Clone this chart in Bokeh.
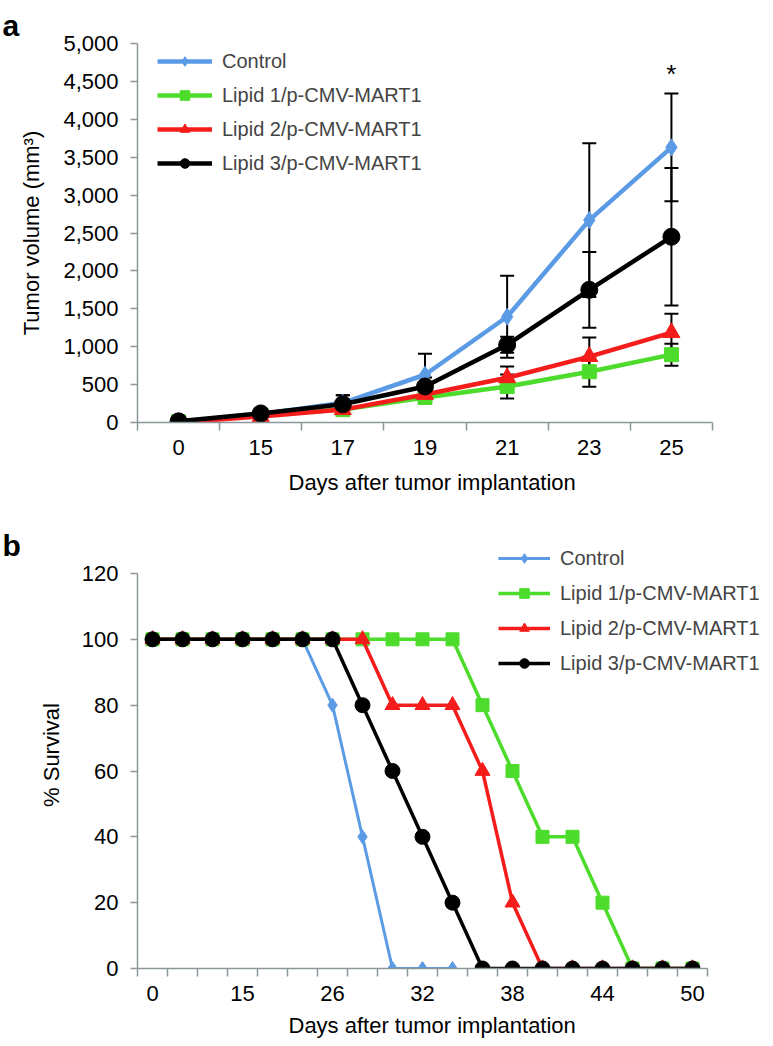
import numpy as np
from bokeh.plotting import figure
from bokeh.models import (Range1d, FixedTicker, NumeralTickFormatter, Legend, LegendItem,
                          Whisker, TeeHead, ColumnDataSource, Label, Title)
from bokeh.layouts import column
from bokeh.embed import file_html
from bokeh.resources import INLINE

FONT = "Liberation Sans"
AXIS_GREY = "#8c979c"

# ---------------- data: panel a ----------------
days_a = [0, 15, 17, 19, 21, 23, 25]
control_a = [10, 110, 260, 630, 1395, 2670, 3630]
lipid1_a = [10, 100, 170, 330, 475, 670, 895]
lipid2_a = [0, 80, 170, 370, 590, 870, 1185]
lipid3_a = [15, 120, 240, 475, 1025, 1750, 2450]
control_a_err = [5, 20, 100, 276, 540, 1013, 710]
lipid1_a_err = [5, 20, 60, 60, 158, 197, 145]
lipid2_a_err = [5, 20, 60, 80, 150, 250, 250]
lipid3_a_err = [5, 30, 120, 120, 105, 500, 908]
yticks_a = [0, 500, 1000, 1500, 2000, 2500, 3000, 3500, 4000, 4500, 5000]

# ---------------- data: panel b ----------------
days_b = [0, 5, 10, 15, 19, 22, 26, 28, 30, 32, 34, 36, 38, 40, 42, 44, 46, 48, 50]
control_b = [100, 100, 100, 100, 100, 100, 80, 40, 0, 0, 0,
             None, None, None, None, None, None, None, None]
lipid1_b = [100, 100, 100, 100, 100, 100, 100, 100, 100, 100, 100,
            80, 60, 40, 40, 20, 0, 0, 0]
lipid2_b = [100, 100, 100, 100, 100, 100, 100, 100, 80, 80, 80,
            60, 20, 0, 0, 0, 0, 0, 0]
lipid3_b = [100, 100, 100, 100, 100, 100, 100, 80, 60, 40, 20,
            0, 0, 0, 0, 0, 0, 0, 0]
yticks_b = [0, 20, 40, 60, 80, 100, 120]

names = ["Control", "Lipid 1/p-CMV-MART1", "Lipid 2/p-CMV-MART1", "Lipid 3/p-CMV-MART1"]
colors = ["#5b9be6", "#4ddc2c", "#f51c1c", "#000000"]
markers = ["diamond", "square", "triangle", "circle"]
x_title = "Days after tumor implantation"

FRAME_W = 628  # common frame width of both panels (frames are aligned by the column)


def f(v):
    return np.array([np.nan if x is None else x for x in v], dtype=float)


def style_axes(p, fs_tick="22px", fs_title="22px"):
    p.xgrid.visible = False
    p.ygrid.visible = False
    p.outline_line_color = None
    p.background_fill_color = "white"
    p.border_fill_color = "white"
    for ax in (p.xaxis[0], p.yaxis[0]):
        ax.axis_line_color = AXIS_GREY
        ax.axis_line_width = 1.5
        ax.major_tick_line_color = AXIS_GREY
        ax.major_tick_line_width = 1.5
        ax.minor_tick_line_color = AXIS_GREY
        ax.minor_tick_line_width = 1.5
        ax.major_label_text_font = FONT
        ax.major_label_text_font_size = fs_tick
        ax.major_label_text_color = "black"
        ax.axis_label_text_font = FONT
        ax.axis_label_text_font_size = fs_title
        ax.axis_label_text_font_style = "normal"
        ax.axis_label_text_color = "black"


def x_axis_title(p, standoff):
    # x-axis title centred under the drawn axis (the frame is wider than the axis)
    p.add_layout(Title(text=x_title, align="left", offset=151, standoff=standoff,
                       text_font=FONT, text_font_size="22px", text_font_style="normal",
                       text_color="black"), "below")


# ================= panel a =================
n_a = len(days_a)
xa = np.arange(n_a) + 0.5
pa = figure(width=773, height=505, x_range=Range1d(0, n_a * FRAME_W / 575),
            y_range=Range1d(0, 5000),
            output_backend="svg", toolbar_location=None,
            min_border_left=137, min_border_right=8, min_border_top=43, min_border_bottom=82)
style_axes(pa)
pa.add_layout(Title(text="a", align="left", offset=-135, standoff=4, text_font=FONT,
                    text_font_size="30px", text_font_style="bold", text_color="black"), "above")
pa.xaxis.bounds = (0, n_a)
pa.xaxis.ticker = FixedTicker(ticks=list(xa), minor_ticks=list(range(n_a + 1)))
pa.xaxis.major_label_overrides = {float(x): str(d) for x, d in zip(xa, days_a)}
pa.xaxis.major_tick_line_color = None
pa.xaxis.major_tick_out = 8
pa.xaxis.major_tick_in = 0
pa.xaxis.minor_tick_out = 8
pa.xaxis.minor_tick_in = 0
pa.xaxis.major_label_standoff = 9
x_axis_title(pa, 21)
pa.yaxis.ticker = FixedTicker(ticks=yticks_a, minor_ticks=[])
pa.yaxis.formatter = NumeralTickFormatter(format="0,0")
pa.yaxis.major_tick_out = 7
pa.yaxis.major_tick_in = 0
pa.yaxis.major_label_standoff = 12
pa.yaxis.axis_label = "Tumor volume (mm³)"
pa.yaxis.axis_label_standoff = 16

series_a = [control_a, lipid1_a, lipid2_a, lipid3_a]
errs_a = [control_a_err, lipid1_a_err, lipid2_a_err, lipid3_a_err]
msize_a = [17, 14, 17, 17]
items_a = []
for name, col, mk, vals, ms in zip(names, colors, markers, series_a, msize_a):
    src = ColumnDataSource(dict(x=xa, y=np.array(vals, float)))
    lr = pa.line("x", "y", source=src, line_color=col, line_width=4.5)
    sr = pa.scatter("x", "y", source=src, marker=mk, size=ms, fill_color=col, line_color=col)
    items_a.append(LegendItem(label=name, renderers=[lr, sr]))
for vals, err in zip(series_a, errs_a):
    v = np.array(vals, float)
    e = np.array(err, float)
    esrc = ColumnDataSource(dict(x=xa, lo=v - e, hi=v + e))
    w = Whisker(source=esrc, base="x", lower="lo", upper="hi", line_color="black", line_width=2,
                upper_head=TeeHead(size=14, line_color="black", line_width=2),
                lower_head=TeeHead(size=14, line_color="black", line_width=2))
    pa.add_layout(w)

leg_a = Legend(items=items_a, location=(20, 247), orientation="vertical",
               glyph_width=55, glyph_height=24, label_height=24, spacing=10,
               padding=0, margin=0, label_standoff=10,
               label_text_font=FONT, label_text_font_size="20px",
               border_line_color=None, background_fill_alpha=0)
pa.add_layout(leg_a)

pa.add_layout(Label(x=xa[-1], y=4600, text="*", text_font=FONT, text_font_size="26px",
                    text_align="center", text_baseline="middle", text_color="black"))

# ================= panel b =================
n_b = len(days_b)
xb = np.arange(n_b) + 0.5
label_idx = list(range(0, n_b, 3))
# frame is a little larger than the axes so the legend (which sits above 120) is not clipped
pb = figure(width=773, height=540, x_range=Range1d(0, n_b * FRAME_W / 570),
            y_range=Range1d(0, 120 * 427 / 395),
            output_backend="svg", toolbar_location=None,
            min_border_left=137, min_border_right=8, min_border_top=36, min_border_bottom=77)
style_axes(pb)
pb.add_layout(Title(text="b", align="left", offset=-135, standoff=-40, text_font=FONT,
                    text_font_size="30px", text_font_style="bold", text_color="black"), "above")
pb.xaxis.bounds = (0, n_b)
pb.yaxis.bounds = (0, 120)
pb.xaxis.ticker = FixedTicker(ticks=[float(xb[i]) for i in label_idx],
                              minor_ticks=list(range(n_b + 1)))
pb.xaxis.major_label_overrides = {float(xb[i]): str(days_b[i]) for i in label_idx}
pb.xaxis.major_tick_line_color = None
pb.xaxis.major_tick_out = 8
pb.xaxis.major_tick_in = 0
pb.xaxis.minor_tick_out = 8
pb.xaxis.minor_tick_in = 0
pb.xaxis.major_label_standoff = 9
x_axis_title(pb, 15)
pb.yaxis.ticker = FixedTicker(ticks=yticks_b, minor_ticks=[])
pb.yaxis.major_tick_out = 7
pb.yaxis.major_tick_in = 0
pb.yaxis.major_label_standoff = 12
pb.yaxis.axis_label = "% Survival"
pb.yaxis.axis_label_standoff = 15

series_b = [control_b, lipid1_b, lipid2_b, lipid3_b]
lw_b = [3, 3.5, 3.5, 3.5]
msize_b = [14, 13, 15, 15]
items_b = []
for name, col, mk, vals, lw, ms in zip(names, colors, markers, series_b, lw_b, msize_b):
    src = ColumnDataSource(dict(x=xb, y=f(vals)))
    lr = pb.line("x", "y", source=src, line_color=col, line_width=lw)
    sr = pb.scatter("x", "y", source=src, marker=mk, size=ms, fill_color=col, line_color=col)
    items_b.append(LegendItem(label=name, renderers=[lr, sr]))

leg_b = Legend(items=items_b, location=(361, 293), orientation="vertical",
               glyph_width=52, glyph_height=24, label_height=24, spacing=11,
               padding=0, margin=0, label_standoff=10,
               label_text_font=FONT, label_text_font_size="20px",
               border_line_color=None, background_fill_alpha=0)
pb.add_layout(leg_b)

layout = column(pa, pb, spacing=0)
open("out.html", "w").write(file_html(layout, INLINE))
